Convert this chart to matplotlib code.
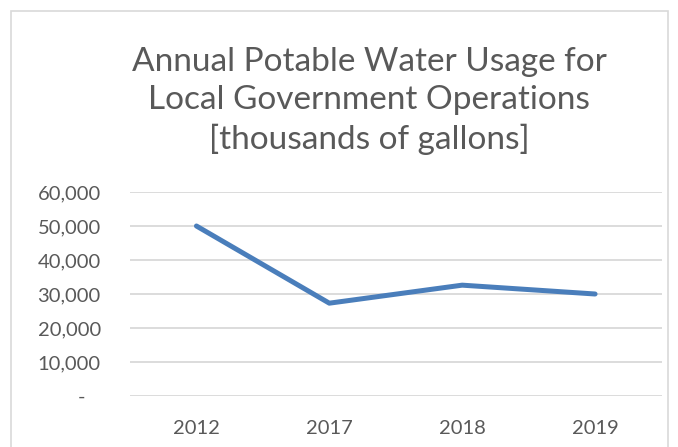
import matplotlib.pyplot as plt
from matplotlib.patches import Rectangle

years = ["2012", "2017", "2018", "2019"]
usage = [50000, 27300, 32600, 30000]  # thousands of gallons
yticks = [0, 10000, 20000, 30000, 40000, 50000, 60000]
ylabels = ["-   ", "10,000", "20,000", "30,000", "40,000", "50,000", "60,000"]

txt = "#595959"
plt.rcParams["font.family"] = ["Lato", "DejaVu Sans"]

fig = plt.figure(figsize=(6.78, 4.47), dpi=100)
ax = fig.add_axes([130 / 678, 1 - 396 / 447, 531.5 / 678, 204 / 447])

ax.plot(range(len(years)), usage, color="#4a7ebb", lw=3.6, solid_capstyle="round")

ax.set_xlim(-0.5, len(years) - 0.5)
ax.set_ylim(0, 60000)
ax.set_xticks(range(len(years)))
ax.set_xticklabels(years)
ax.set_yticks(yticks)
ax.set_yticklabels(ylabels)
ax.tick_params(axis="x", length=0, pad=17, labelsize=14.5, labelcolor=txt)
ax.tick_params(axis="y", length=0, pad=21, labelsize=14.5, labelcolor=txt)
ax.grid(axis="y", color="#d9d9d9", lw=1.3)
ax.set_axisbelow(True)
for s in ax.spines.values():
    s.set_visible(False)

fig.text(369 / 678, 1 - 101 / 447,
         "Annual Potable Water Usage for\nLocal Government Operations\n[thousands of gallons]",
         ha="center", va="center", fontsize=24, color=txt, linespacing=1.32)

# chart border
fig.patches.append(Rectangle((11 / 678, -0.1), 657 / 678, 1.1 - 11 / 447,
                             transform=fig.transFigure, fill=False,
                             edgecolor="#d9d9d9", lw=1.2))

fig.savefig("out.png", dpi=100)
